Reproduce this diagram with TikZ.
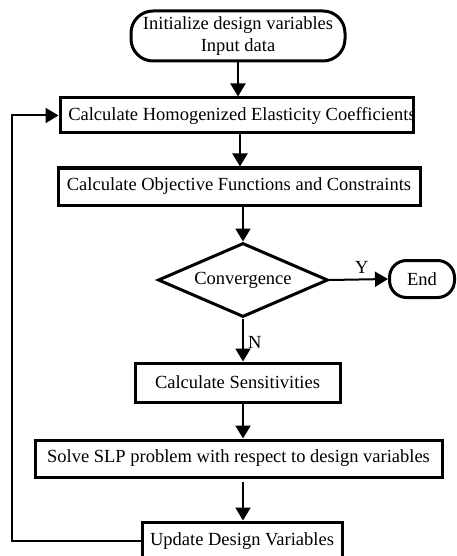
\documentclass[tikz,border=0pt]{standalone}
\usepackage{fontspec}
\setmainfont{Liberation Serif}
\usetikzlibrary{shapes.geometric,arrows.meta}
\tikzset{
  box/.style={draw, line width=3pt, rectangle, inner sep=0pt, font=\fontsize{18.5}{22}\selectfont},
  term/.style={draw, line width=3pt, rounded corners=22pt, inner sep=0pt, align=center, font=\fontsize{18.5}{22}\selectfont},
  dec/.style={draw, line width=3pt, diamond, aspect=2.3, inner sep=0pt, minimum width=170pt, minimum height=74pt, font=\fontsize{18.5}{22}\selectfont},
  txt/.style={inner sep=0pt, font=\fontsize{18.5}{22}\selectfont},
  arr/.style={line width=2pt, -{Triangle[length=13pt,width=15pt]}},
}
\begin{document}
\begin{tikzpicture}[x=1pt,y=-1pt]
\useasboundingbox (0,0) rectangle (457,556);
\node[term, minimum width=214pt, minimum height=50pt] (start) at (238,36) {Initialize design variables\\Input data};
\node[box, minimum width=353pt, minimum height=35pt] (b1) at (236.5,115.5) {};
\node[txt] (b1t) at (242,116) {Calculate Homogenized Elasticity Coefficients};
\node[box, minimum width=362pt, minimum height=37pt] (b2) at (239,186.5) {Calculate Objective Functions and Constraints};
\node[dec] (conv) at (243,280) {Convergence};
\node[term, rounded corners=17pt, minimum width=65pt, minimum height=37pt] (end) at (422,279) {End};
\node[box, minimum width=205pt, minimum height=39pt] (sens) at (237.5,382.5) {Calculate Sensitivities};
\node[box, minimum width=407pt, minimum height=37pt] (slp) at (238.5,458.5) {Solve SLP problem with respect to design variables};
\node[box, minimum width=200pt, minimum height=38pt] (upd) at (242,541) {Update Design Variables};
\coordinate (lp) at (12,0);
\draw[arr] (start.south) -- (start.south |- b1.north);
\draw[arr] (b1.south -| 240,0) -- (b2.north -| 240,0);
\draw[arr] (b2.south -| conv.north) -- (conv.north);
\draw[arr] (conv.east) -- node[txt, above, yshift=5pt, pos=0.55] (ylab) {Y} (end.west);
\draw[arr] (conv.south) -- node[txt, right, xshift=4pt, pos=0.55] (nlab) {N} (conv.south |- sens.north);
\draw[arr] (sens.south -| 243,0) -- (slp.north -| 243,0);
\draw[arr, shorten <=3pt] (slp.south -| 243,0) -- (upd.north -| 243,0);
\draw[arr] (upd.west) -| (lp |- b1.west) -- (b1.west);
\end{tikzpicture}
\end{document}
